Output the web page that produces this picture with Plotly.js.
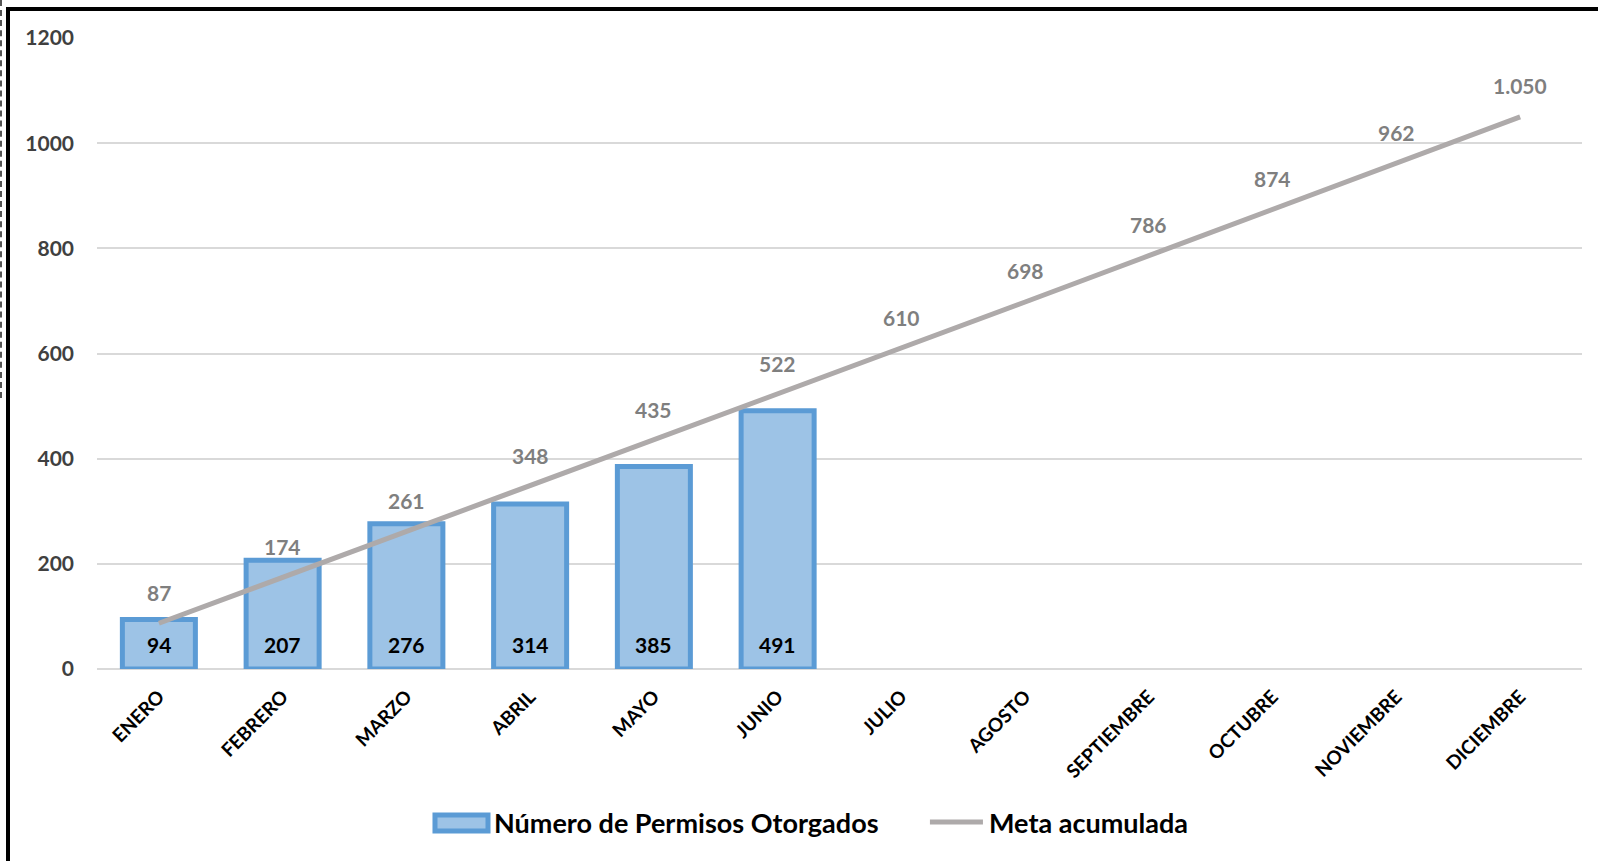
<!DOCTYPE html>
<html>
<head>
<meta charset="utf-8">
<script src="https://cdn.plot.ly/plotly-3.0.1.min.js"></script>
<style>
  html, body { margin: 0; padding: 0; background: #fff; }
  #wrap { position: relative; width: 1598px; height: 861px; overflow: hidden; }
  #chart { position: absolute; left: 0; top: 0; width: 1598px; height: 861px; }
  #frame { position: absolute; left: 6px; top: 7px; width: 1700px; height: 1000px;
           border-left: 4px solid #000; border-top: 4px solid #000; pointer-events: none; }
  #edge { position: absolute; left: 0; top: 0; width: 0; height: 398px;
          border-left: 2px dashed #555; pointer-events: none; }
</style>
</head>
<body>
<div id="wrap">
  <div id="chart"></div>
  <div id="frame"></div>
  <div id="edge"></div>
</div>
<script>
const months = ["ENERO","FEBRERO","MARZO","ABRIL","MAYO","JUNIO","JULIO","AGOSTO","SEPTIEMBRE","OCTUBRE","NOVIEMBRE","DICIEMBRE"];
const permisosMonths = ["ENERO","FEBRERO","MARZO","ABRIL","MAYO","JUNIO"];
const permisos = [94, 207, 276, 314, 385, 491];
const meta = [87, 174, 261, 348, 435, 522, 610, 698, 786, 874, 962, 1050];
const yTicks = [0, 200, 400, 600, 800, 1000, 1200];
const seriesNames = ["Número de Permisos Otorgados", "Meta acumulada"];

const FONT = "Lato, 'Open Sans', sans-serif";
const BAR_FILL = "#9DC3E6", BAR_LINE = "#5B9BD5", META_LINE = "#AEAAAA";

function fmt(v) {
  const s = String(v);
  return v >= 1000 ? s.slice(0, s.length - 3) + "." + s.slice(-3) : s;
}

const bars = {
  type: "bar",
  name: seriesNames[0],
  x: permisosMonths,
  y: permisos,
  marker: { color: BAR_FILL, line: { color: BAR_LINE, width: 5 } },
  hoverinfo: "skip",
  showlegend: false
};

const line = {
  type: "scatter",
  mode: "lines",
  name: seriesNames[1],
  x: months,
  y: meta,
  line: { color: META_LINE, width: 5 },
  hoverinfo: "skip",
  showlegend: false
};

// data labels
const annotations = meta.map((v, i) => ({
  x: months[i], y: v, xref: "x", yref: "y",
  text: fmt(v), showarrow: false, yshift: 31,
  font: { family: FONT, size: 21, color: "#7F7F7F", weight: 700 }
})).concat(permisos.map((v, i) => ({
  x: permisosMonths[i], y: 0, xref: "x", yref: "y",
  text: String(v), showarrow: false, yshift: 25,
  font: { family: FONT, size: 21, color: "#000", weight: 700 }
})));

// legend (drawn in paper coordinates below the plot)
const LEG_Y = -0.2425;
annotations.push(
  { xref: "paper", yref: "paper", x: 0.2660, y: LEG_Y, xanchor: "left", yanchor: "middle",
    text: seriesNames[0], showarrow: false,
    font: { family: FONT, size: 27, color: "#000", weight: 700 } },
  { xref: "paper", yref: "paper", x: 0.5990, y: LEG_Y, xanchor: "left", yanchor: "middle",
    text: seriesNames[1], showarrow: false,
    font: { family: FONT, size: 27, color: "#000", weight: 700 } }
);
const shapes = [
  { type: "rect", xref: "paper", yref: "paper",
    x0: 0.2276, x1: 0.2633, y0: -0.2314, y1: -0.2567,
    fillcolor: BAR_FILL, line: { color: BAR_LINE, width: 5 } },
  { type: "line", xref: "paper", yref: "paper",
    x0: 0.5609, x1: 0.5966, y0: LEG_Y, y1: LEG_Y,
    line: { color: META_LINE, width: 5 } }
];

const layout = {
  width: 1598, height: 861,
  margin: { l: 97, r: 16, t: 38, b: 192 },
  paper_bgcolor: "#fff", plot_bgcolor: "#fff",
  showlegend: false,
  bargap: 0.41,
  xaxis: {
    type: "category",
    categoryorder: "array",
    categoryarray: months,
    range: [-0.5, 11.5],
    tickangle: -45,
    showgrid: false, zeroline: false, showline: false, ticks: "",
    tickfont: { family: FONT, size: 19, color: "#000", weight: 700 },
    ticklabelstandoff: 12
  },
  yaxis: {
    range: [0, 1200],
    tickvals: yTicks,
    ticktext: yTicks.map(String),
    showgrid: true, gridcolor: "#D9D9D9", gridwidth: 2,
    zeroline: true, zerolinecolor: "#D9D9D9", zerolinewidth: 2,
    showline: false, ticks: "",
    tickfont: { family: FONT, size: 21, color: "#404040", weight: 700 },
    ticklabelstandoff: 22
  },
  annotations: annotations,
  shapes: shapes
};

Plotly.newPlot("chart", [bars, line], layout, { staticPlot: true, displayModeBar: false });
</script>
</body>
</html>
